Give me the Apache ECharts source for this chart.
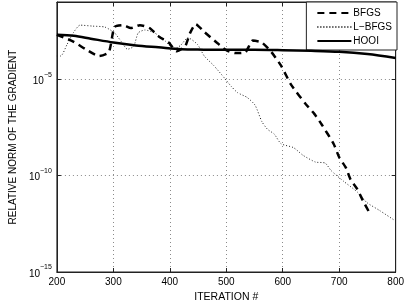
<!DOCTYPE html>
<html>
<head>
<meta charset="utf-8">
<script src="https://cdn.jsdelivr.net/npm/echarts@6/dist/echarts.min.js"></script>
<style>
html,body{margin:0;padding:0;background:#fff;}
#chart{width:407px;height:308px;}
</style>
</head>
<body>
<div id="chart"></div>
<script>
// Iteration numbers and log10 of the relative gradient norm
var bfgsIter = [200, 229, 251, 275, 292, 302, 317, 331, 347, 364, 381, 398, 412, 427, 436, 446, 461, 483, 500, 517, 534, 547, 563, 580, 597, 615, 641, 656, 669, 690, 700, 712, 720, 732, 742, 754];
var bfgsLog10 = [-2.7, -3.05, -3.45, -3.8, -3.6, -2.3, -2.2, -2.35, -2.2, -2.35, -2.8, -3.1, -3.55, -3.3, -2.6, -2.15, -2.55, -3.1, -3.5, -3.65, -3.6, -3.0, -3.1, -3.6, -4.3, -5.3, -6.3, -6.8, -7.35, -8.35, -9.05, -9.6, -10.2, -10.7, -11.3, -11.95];

var lbfgsIter = [200, 207, 218, 229, 241, 263, 285, 302, 314, 325, 336, 344, 356, 373, 393, 407, 419, 432, 449, 461, 478, 497, 508, 520, 537, 551, 563, 573, 585, 597, 619, 636, 658, 675, 686, 708, 732, 749, 771, 797];
var lbfgsLog10 = [-3.8, -3.8, -3.2, -2.6, -2.2, -2.25, -2.3, -2.6, -3.05, -3.45, -3.3, -2.6, -2.45, -2.6, -3.05, -3.45, -3.25, -2.85, -3.2, -3.8, -4.3, -4.95, -5.35, -5.7, -5.95, -6.35, -7.2, -7.6, -7.85, -8.35, -8.55, -8.95, -9.3, -9.35, -9.75, -10.3, -10.85, -11.4, -11.8, -12.3];

var hooiIter = [200, 230, 260, 300, 340, 380, 420, 460, 500, 550, 600, 650, 700, 750, 800];
var hooiLog10 = [-2.7, -2.75, -2.9, -3.1, -3.25, -3.35, -3.45, -3.47, -3.48, -3.48, -3.5, -3.53, -3.58, -3.7, -3.9];

var seriesNames = ['BFGS', 'L\u2212BFGS', 'HOOI'];
var xTicks = [200, 300, 400, 500, 600, 700, 800];
var yTickExponents = [-15, -10, -5];

function pairs(xs, ys) { return xs.map(function (x, i) { return [x, ys[i]]; }); }

var FONT = 'Liberation Sans, Arial, Helvetica, sans-serif';
var AX = '#222';
var chart = echarts.init(document.getElementById('chart'), null, {renderer: 'canvas'});

var commonX = {
  type: 'value', min: 200, max: 800, interval: 100,
  axisLine: {show: true, lineStyle: {color: AX, width: 1}},
  axisTick: {show: true, inside: true, length: 4, lineStyle: {color: AX}},
  splitLine: {show: false}
};
var commonY = {
  type: 'value', min: -15, max: -1, interval: 5,
  axisLine: {show: true, lineStyle: {color: AX, width: 1}},
  axisTick: {show: true, inside: true, length: 4, lineStyle: {color: AX}},
  splitLine: {show: false}
};

chart.setOption({
  animation: false,
  backgroundColor: '#fff',
  textStyle: {fontFamily: FONT},
  grid: {left: 43, right: 10, top: 2, bottom: 27, show: true, borderColor: AX, borderWidth: 1},
  legend: {
    data: seriesNames,
    orient: 'vertical',
    right: 10, top: 2,
    backgroundColor: '#fff',
    borderColor: AX, borderWidth: 1, borderRadius: 0,
    padding: [6, 5, 4, 10],
    itemWidth: 34, itemHeight: 10, itemGap: 4,
    itemStyle: {opacity: 0, color: 'rgba(0,0,0,0)', borderWidth: 0},
    textStyle: {fontFamily: FONT, fontSize: 10, color: '#000', padding: [0, 0, 0, -3]}
  },
  xAxis: [
    Object.assign({}, commonX, {
      position: 'bottom',
      name: 'ITERATION #', nameLocation: 'middle', nameGap: 20,
      nameTextStyle: {fontFamily: FONT, fontSize: 10.5, color: '#000'},
      axisLabel: {show: true, margin: 5, fontFamily: FONT, fontSize: 10, color: '#000',
        formatter: function (v) { return xTicks.indexOf(v) >= 0 ? String(v) : ''; }},
      splitLine: {show: true, lineStyle: {color: '#8a8a8a', width: 1, type: [1, 3]}}
    }),
    Object.assign({}, commonX, {position: 'top', axisLabel: {show: false}})
  ],
  yAxis: [
    Object.assign({}, commonY, {
      position: 'left',
      name: 'RELATIVE NORM OF THE GRADIENT', nameLocation: 'middle', nameGap: 34,
      nameTextStyle: {fontFamily: FONT, fontSize: 10, color: '#000'},
      axisLabel: {show: true, margin: 5, color: '#000',
        formatter: function (v) {
          return yTickExponents.indexOf(v) >= 0 ? '{b|10}{s|\u2212' + Math.abs(v) + '}' : '';
        },
        rich: {
          b: {fontFamily: FONT, fontSize: 10, lineHeight: 16, color: '#000', padding: [4, 0, 0, 0]},
          s: {fontFamily: FONT, fontSize: 7, lineHeight: 8, verticalAlign: 'top', color: '#000'}
        }
      },
      splitLine: {show: true, lineStyle: {color: '#8a8a8a', width: 1, type: [1, 3]}}
    }),
    Object.assign({}, commonY, {position: 'right', axisLabel: {show: false}})
  ],
  series: [
    {
      name: seriesNames[0], type: 'line', xAxisIndex: 0, yAxisIndex: 0,
      data: pairs(bfgsIter, bfgsLog10), symbol: 'none', smooth: 0.2,
      lineStyle: {color: '#000', width: 2.5, type: [7, 5]},
      itemStyle: {color: '#000'}, z: 3
    },
    {
      name: seriesNames[1], type: 'line', xAxisIndex: 0, yAxisIndex: 0,
      data: pairs(lbfgsIter, lbfgsLog10), symbol: 'none', smooth: 0.2,
      lineStyle: {color: '#222', width: 1, type: [1, 2]},
      itemStyle: {color: '#222'}, z: 2
    },
    {
      name: seriesNames[2], type: 'line', xAxisIndex: 0, yAxisIndex: 0,
      data: pairs(hooiIter, hooiLog10), symbol: 'none', smooth: 0.3,
      lineStyle: {color: '#000', width: 2.5, type: 'solid'},
      itemStyle: {color: '#000'}, z: 4
    }
  ]
});
</script>
</body>
</html>
